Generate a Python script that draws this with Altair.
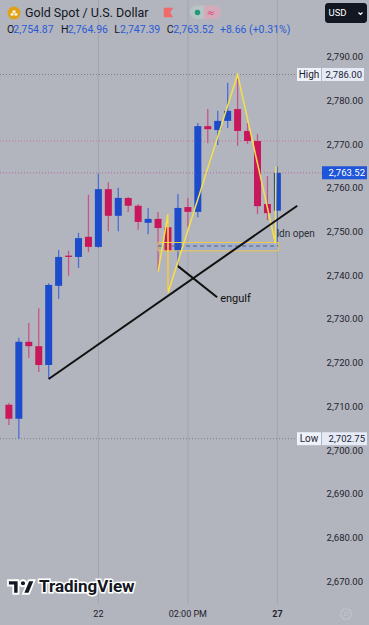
import altair as alt
import pandas as pd

# ---------------- data ----------------
candle_idx = list(range(1, 29))
opens = [2710.5, 2707.3, 2724.9, 2723.9, 2719.6, 2737.7, 2744.6, 2744.3, 2748.9, 2746.6,
         2759.8, 2753.7, 2757.8, 2756.0, 2752.1, 2753.0, 2751.1, 2745.7, 2755.7, 2754.6,
         2774.2, 2773.3, 2775.4, 2778.1, 2773.1, 2770.8, 2756.4, 2754.87]
highs = [2710.9, 2725.8, 2729.2, 2732.6, 2738.3, 2745.9, 2745.7, 2749.8, 2758.5, 2763.3,
         2761.4, 2760.1, 2758.0, 2756.4, 2755.5, 2754.6, 2754.1, 2758.7, 2757.8, 2774.9,
         2778.1, 2777.7, 2784.1, 2786.0, 2774.9, 2772.4, 2762.8, 2764.96]
lows = [2705.9, 2702.75, 2721.2, 2718.0, 2716.4, 2734.7, 2740.0, 2741.8, 2745.4, 2746.4,
        2750.2, 2750.2, 2754.6, 2750.5, 2749.5, 2740.9, 2736.1, 2742.2, 2751.1, 2753.4,
        2770.3, 2769.9, 2773.8, 2769.7, 2770.1, 2754.1, 2752.7, 2747.39]
closes = [2707.3, 2724.9, 2723.9, 2719.6, 2737.9, 2744.3, 2744.3, 2748.6, 2746.6, 2759.8,
          2753.7, 2757.8, 2756.0, 2752.3, 2753.0, 2750.9, 2745.7, 2755.5, 2754.6, 2774.2,
          2773.5, 2775.4, 2777.7, 2773.1, 2770.8, 2755.9, 2754.3, 2763.52]

price_ticks = [2790, 2780, 2770, 2760, 2750, 2740, 2730, 2720, 2710, 2700, 2690, 2680, 2670]
price_tick_labels = ["2,790.00", "2,780.00", "2,770.00", "2,760.00", "2,750.00", "2,740.00",
                     "2,730.00", "2,720.00", "2,710.00", "2,700.00", "2,690.00", "2,680.00",
                     "2,670.00"]
time_idx = [10, 19]
time_labels = ["22", "02:00 PM"]
time_idx_bold = [28]
time_labels_bold = ["27"]
grid_idx = [10, 19, 28]

high_level = 2786.00
low_level = 2702.75
last_price = 2763.52
prev_level = 2770.8

trend_x = [5, 30.0]
trend_y = [2716.4, 2756.0]
engulf_x = [18, 21.94]
engulf_y = [2742.2, 2735.1]
engulf_label = (22.25, 2734.7, "engulf")
zig_x = [16, 17, 17, 24, 27.8, 27.85]
zig_y = [2740.9, 2754.1, 2736.1, 2786.0, 2747.39, 2764.96]
box_x = [16, 28.1]
box_y = [2745.7, 2747.6]
box_mid = 2746.8
ldn_label = (27.93, 2749.5, "ldn open")

ohlc_letters = ["O", "H", "L", "C"]
ohlc_values = ["2,754.87", "2,764.96", "2,747.39", "2,763.52"]
change_text = "+8.66 (+0.31%)"

# ---------------- scales ----------------
W, H = 369, 625
BG = "#b2b5be"
BLUE = "#1c4bcc"
RED = "#c8185b"
BLUE_W = "#4c6ed2"
RED_W = "#c85585"
DARK = "#1e222d"
FONT = "Roboto"

xs = alt.Scale(domain=[0.607, 36.712], nice=False, zero=False)
ys = alt.Scale(domain=[2660.17, 2803.03], nice=False, zero=False)


def X(f):
    return alt.X(f, type="quantitative", scale=xs, axis=None)


def Y(f):
    return alt.Y(f, type="quantitative", scale=ys, axis=None)


cdf = pd.DataFrame({"idx": candle_idx, "o": opens, "h": highs, "l": lows, "c": closes})
up = "datum.c >= datum.o"

one = pd.DataFrame({"k": [0]})

# grid lines
grid = alt.Chart(pd.DataFrame({"t": grid_idx})).mark_rule(color="#a2a5ae", strokeWidth=1).encode(
    x=X("t"), y=alt.value(0), y2=alt.value(604))


# horizontal level lines
def level(price, x2, col):
    return alt.Chart(pd.DataFrame({"p": [price]})).mark_rule(
        strokeWidth=1, strokeDash=[1, 2], color=col).encode(y=Y("p"), x=alt.value(0), x2=alt.value(x2))


levels_hi = level(high_level, 296, "#7a7d86")
levels_lo = level(low_level, 297, "#7a7d86")
levels_prev = level(prev_level, 320, "#cf6a93")
levels_last = level(last_price, 322, "#b46aa6")

# box
box_df = pd.DataFrame({"x1": [box_x[0]], "x2": [box_x[1]], "y1": [box_y[0]], "y2": [box_y[1]], "m": [box_mid]})
box_fill = alt.Chart(box_df).mark_rect(color="#93a9dc", opacity=0.55).encode(
    x=X("x1"), x2=alt.X2("x2"), y=Y("y1"), y2=alt.Y2("y2"))
box_border = alt.Chart(box_df).mark_rect(fill=None, stroke="#f2c84b", strokeWidth=1).encode(
    x=X("x1"), x2=alt.X2("x2"), y=Y("y1"), y2=alt.Y2("y2"))
box_dash = alt.Chart(box_df).mark_rule(color="#5a5e6b", strokeWidth=1, strokeDash=[4, 3]).encode(
    x=X("x1"), x2=alt.X2("x2"), y=Y("m"))

# candles
wicks = alt.Chart(cdf).mark_rule(strokeWidth=1.3).encode(
    x=X("idx"), y=Y("l"), y2=alt.Y2("h"),
    color=alt.condition(up, alt.value(BLUE_W), alt.value(RED_W)))
bodies = alt.Chart(cdf).mark_bar(size=7).encode(
    x=X("idx"), y=Y("o"), y2=alt.Y2("c"),
    color=alt.condition(up, alt.value(BLUE), alt.value(RED)))

# drawings
zig = alt.Chart(pd.DataFrame({"x": zig_x, "y": zig_y, "s": list(range(len(zig_x)))})).mark_line(
    color="#f5e04a", strokeWidth=1.5).encode(x=X("x"), y=Y("y"), order="s:Q")
trend = alt.Chart(pd.DataFrame({"x": trend_x, "y": trend_y})).mark_line(
    color="#111111", strokeWidth=2).encode(x=X("x"), y=Y("y"))
engulf = alt.Chart(pd.DataFrame({"x": engulf_x, "y": engulf_y})).mark_line(
    color="#111111", strokeWidth=2).encode(x=X("x"), y=Y("y"))
engulf_txt = alt.Chart(pd.DataFrame({"x": [engulf_label[0]], "y": [engulf_label[1]], "t": [engulf_label[2]]})).mark_text(
    align="left", baseline="middle", font=FONT, fontSize=11, color="#111111").encode(x=X("x"), y=Y("y"), text="t:N")
ldn_txt = alt.Chart(pd.DataFrame({"x": [ldn_label[0]], "y": [ldn_label[1]], "t": [ldn_label[2]]})).mark_text(
    align="left", baseline="middle", font=FONT, fontSize=10, color="#2a2e39").encode(x=X("x"), y=Y("y"), text="t:N")

# price axis labels
pax = alt.Chart(pd.DataFrame({"p": price_ticks, "t": price_tick_labels})).mark_text(
    align="right", baseline="middle", font=FONT, fontSize=9.5, color=DARK).encode(
    y=Y("p"), x=alt.value(363), text="t:N")


# label boxes
def tag(price, x1, xm, x2, left_txt, right_txt, fill_l, fill_r, txt_col):
    d = pd.DataFrame({"p": [price], "a": [left_txt], "b": [right_txt]})
    out = []
    if left_txt:
        out.append(alt.Chart(d).mark_rect(color=fill_l, yOffset=-6.5, y2Offset=6.5).encode(
            y=Y("p"), y2=alt.Y2("p"), x=alt.value(x1), x2=alt.value(xm)))
        out.append(alt.Chart(d).mark_text(align="center", baseline="middle", font=FONT, fontSize=10,
                                          color=txt_col).encode(
            y=Y("p"), x=alt.value((x1 + xm) / 2), text="a:N"))
    out.append(alt.Chart(d).mark_rect(color=fill_r, yOffset=-6.5, y2Offset=6.5).encode(
        y=Y("p"), y2=alt.Y2("p"), x=alt.value(xm + (1 if left_txt else 0)), x2=alt.value(x2)))
    out.append(alt.Chart(d).mark_text(align="right", baseline="middle", font=FONT, fontSize=9.5,
                                      color=txt_col).encode(
        y=Y("p"), x=alt.value(x2 - 2), text="b:N"))
    return out


tags = []
tags += tag(high_level, 297, 321, 364, "High", "2,786.00", "#eef2fa", "#e4eaf6", DARK)
tags += tag(low_level, 297, 321, 367, "Low", "2,702.75", "#eef2fa", "#e4eaf6", DARK)
tags += tag(last_price, 322, 322, 367, "", "2,763.52", None, "#1f55d9", "#ffffff")

# time axis labels
tax = alt.Chart(pd.DataFrame({"t": time_idx, "l": time_labels})).mark_text(
    align="center", baseline="middle", font=FONT, fontSize=9, color=DARK).encode(
    x=X("t"), y=alt.value(614), text="l:N")
tax_b = alt.Chart(pd.DataFrame({"t": time_idx_bold, "l": time_labels_bold})).mark_text(
    align="center", baseline="middle", font=FONT, fontSize=9, fontWeight="bold", color=DARK).encode(
    x=X("t"), y=alt.value(614), text="l:N")

gear = alt.Chart(one).mark_point(shape="circle", size=110, filled=False, color="#c9cbd1", strokeWidth=1.2).encode(
    x=alt.value(346), y=alt.value(614))
gear2 = alt.Chart(one).mark_point(shape="circle", size=14, filled=False, color="#c9cbd1", strokeWidth=1).encode(
    x=alt.value(346), y=alt.value(614))

# TradingView watermark
TV_PATH = ("M-0.222,0.5 L-0.611,0.5 L-0.611,-0.111 L-1,-0.111 L-1,-0.5 L-0.222,-0.5 Z "
           "M0.556,0.5 L0.111,0.5 L0.528,-0.5 L0.972,-0.5 Z "
           "M0.333,-0.278 A0.222,0.222 0 1,1 -0.111,-0.278 A0.222,0.222 0 1,1 0.333,-0.278 Z")
logo = alt.Chart(one).mark_point(shape=TV_PATH, size=729, filled=True, fill="#131722", stroke="#ffffff",
                                 strokeWidth=1.8, opacity=1).encode(x=alt.value(21.5), y=alt.value(587))
wm_bg = alt.Chart(pd.DataFrame({"t": ["TradingView"]})).mark_text(
    align="left", baseline="middle", font=FONT, fontSize=17, fontWeight="bold", color="#ffffff",
    stroke="#ffffff", strokeWidth=3).encode(x=alt.value(39), y=alt.value(587), text="t:N")
wm = alt.Chart(pd.DataFrame({"t": ["TradingView"]})).mark_text(
    align="left", baseline="middle", font=FONT, fontSize=17, fontWeight="bold", color="#131722").encode(
    x=alt.value(39), y=alt.value(587), text="t:N")

# header
coin = alt.Chart(one).mark_point(shape="circle", size=165, filled=True, color="#e0a112", opacity=1).encode(
    x=alt.value(14), y=alt.value(13))
BARS = ("M-0.55,0.05 L-0.08,0.05 L-0.08,0.4 L-0.55,0.4 Z M0.08,0.05 L0.55,0.05 L0.55,0.4 L0.08,0.4 Z "
        "M-0.24,-0.4 L0.24,-0.4 L0.24,-0.06 L-0.24,-0.06 Z")
coin_bars = alt.Chart(one).mark_point(shape=BARS, size=150, filled=True, color="#ffffff", opacity=1).encode(
    x=alt.value(14), y=alt.value(13))
title = alt.Chart(pd.DataFrame({"t": ["Gold Spot / U.S. Dollar"]})).mark_text(
    align="left", baseline="middle", font=FONT, fontSize=12.5, color="#131722").encode(
    x=alt.value(25), y=alt.value(13), text="t:N")
FLAG = "M-1,-1 L1,-1 L0.35,0 L1,1 L-1,1 Z"
flag = alt.Chart(one).mark_point(shape=FLAG, size=90, filled=True, color="#f06a6a", opacity=1).encode(
    x=alt.value(168.5), y=alt.value(12.5))
pill = alt.Chart(one).mark_rect(color="#b7c4c3", cornerRadius=7).encode(
    x=alt.value(190), x2=alt.value(221), y=alt.value(5.5), y2=alt.value(19))
pill_r = alt.Chart(one).mark_rect(color="#d3aab9", cornerRadius=7).encode(
    x=alt.value(204), x2=alt.value(221), y=alt.value(5.5), y2=alt.value(19))
pill_r2 = alt.Chart(one).mark_rect(color="#d3aab9").encode(
    x=alt.value(204), x2=alt.value(212), y=alt.value(5.5), y2=alt.value(19))
dot = alt.Chart(one).mark_point(shape="circle", size=30, filled=True, color="#1e9b7b", opacity=1).encode(
    x=alt.value(197.5), y=alt.value(12.5))
approx = alt.Chart(pd.DataFrame({"t": ["≈"]})).mark_text(
    align="center", baseline="middle", font="DejaVu Sans", fontSize=10, color="#e0457a").encode(
    x=alt.value(211), y=alt.value(12.5), text="t:N")
usd_box = alt.Chart(one).mark_rect(color="#131722", cornerRadius=3).encode(
    x=alt.value(325), x2=alt.value(367), y=alt.value(3), y2=alt.value(23))
usd = alt.Chart(pd.DataFrame({"t": ["USD"]})).mark_text(
    align="left", baseline="middle", font=FONT, fontSize=9.5, color="#ffffff").encode(
    x=alt.value(328.5), y=alt.value(13), text="t:N")
chev = alt.Chart(one).mark_point(shape="M-1,-0.5 L0,0.5 L1,-0.5", size=16, filled=False, color="#ffffff",
                                 strokeWidth=1.2, opacity=1).encode(x=alt.value(360.5), y=alt.value(13.5))

hdr_x = [7, 13.3, 61, 67.7, 114.3, 120, 166.7, 173.3, 220]
hdr_t = ["O", ohlc_values[0], "H", ohlc_values[1], "L", ohlc_values[2], "C", ohlc_values[3], change_text]
hdr_c = ["#131722", "#2a5bd7", "#131722", "#2a5bd7", "#131722", "#2a5bd7", "#131722", "#2a5bd7", "#2a5bd7"]
ohlc_layers = [
    alt.Chart(pd.DataFrame({"t": [t]})).mark_text(
        align="left", baseline="middle", font=FONT, fontSize=10.5, color=c).encode(
        x=alt.value(xv), y=alt.value(30), text="t:N")
    for xv, t, c in zip(hdr_x, hdr_t, hdr_c)
]

layers = [grid, levels_hi, levels_lo, levels_prev, levels_last, box_fill, wicks, bodies,
          box_border, box_dash, zig, trend, engulf, engulf_txt, ldn_txt, pax] + tags + [
    tax, tax_b, gear, gear2, wm_bg, wm, logo, coin, coin_bars, title, flag, pill, pill_r, pill_r2, dot, approx,
    usd_box, usd, chev] + ohlc_layers

chart = alt.layer(*layers).properties(
    width=W, height=H, background=BG, padding=0, autosize="none"
).configure_view(stroke=None)

chart.save("out.html", embed_options={"renderer": "svg", "actions": False})
